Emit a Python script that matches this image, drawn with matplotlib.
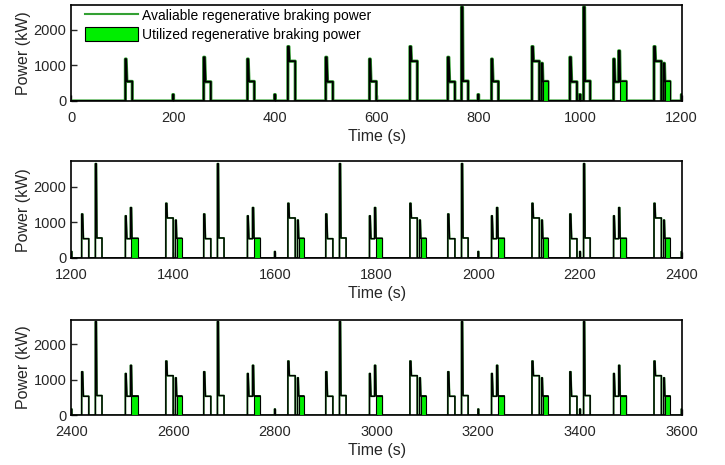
import numpy as np
import matplotlib
matplotlib.use("Agg")
import matplotlib.pyplot as plt

plt.rcParams['font.family'] = ['Liberation Sans', 'DejaVu Sans']

# event shapes: (offset s, available kW) and utilized (offset s, kW)
shape_a = ([0, 0, 2, 3.5, 14, 14], [0, 1230, 1230, 540, 540, 0])
shape_b = ([0, 0, 2, 3, 13, 13], [0, 2640, 2640, 560, 560, 0])
shape_c_short = ([0, 0, 1.5, 3, 13.5, 13.5], [0, 1180, 1180, 550, 550, 0])
shape_c = ([0, 0, 1.5, 3, 10, 10, 12, 13, 25, 25], [0, 1180, 1180, 540, 540, 1410, 1410, 550, 550, 0])
shape_c_used = ([12, 12, 25, 25], [0, 550, 550, 0])
shape_d = ([0, 0, 2, 3, 14.5, 14.5], [0, 1530, 1530, 1120, 1120, 0])
shape_e = ([0, 0, 1.5, 2.5, 12.5, 12.5], [0, 1060, 1060, 550, 550, 0])
shape_e_used = ([2.5, 2.5, 12.5, 12.5], [0, 550, 550, 0])
shape_tick = ([-0.7, -0.7, 0.7, 0.7], [0, 180, 180, 0])

# event start times (s)
a_start = [260, 500, 740, 980, 1220, 1460, 1700, 1940, 2180, 2420, 2660, 2900, 3140, 3380]
b_start = [767, 1007, 1247, 1487, 1727, 1967, 2207, 2447, 2687, 2927, 3167, 3407]
c_short_start = [106, 346, 586, 826]
c_start = [1066, 1306, 1546, 1786, 2026, 2266, 2506, 2746, 2986, 3226, 3466]
d_start = [425.5, 665.5, 905.5, 1145.5, 1385.5, 1625.5, 1865.5, 2105.5, 2345.5,
           2585.5, 2825.5, 3065.5, 3305.5, 3545.5]
e_start = [924.5, 1164.5, 1404.5, 1644.5, 1884.5, 2124.5, 2364.5, 2604.5, 2844.5,
           3084.5, 3324.5, 3564.5]
tick_times = [200, 400, 800, 1000, 1200, 1600, 2000, 2200, 2400, 2800, 3200, 3400, 3600]


def build(events, t_end=3600):
    events = sorted(events, key=lambda e: e[0])
    xs, ys = [0], [0]
    for t0, (st, sv) in events:
        xs += [t0 + s for s in st]
        ys += list(sv)
    xs.append(t_end)
    ys.append(0)
    return np.array(xs), np.array(ys)


avail_events = ([(t, shape_a) for t in a_start] + [(t, shape_b) for t in b_start] +
                [(t, shape_c_short) for t in c_short_start] + [(t, shape_c) for t in c_start] +
                [(t, shape_d) for t in d_start] + [(t, shape_e) for t in e_start] +
                [(t, shape_tick) for t in tick_times])
used_events = [(t, shape_c_used) for t in c_start] + [(t, shape_e_used) for t in e_start]

t_av, p_av = build(avail_events)
t_us, p_us = build(used_events)

fig = plt.figure(figsize=(7.25, 4.65), dpi=100)
ranges = [(0, 1200), (1200, 2400), (2400, 3600)]
positions = [[0.0986, 0.7828, 0.8417, 0.2065],
             [0.0986, 0.4452, 0.8417, 0.2075],
             [0.0986, 0.1065, 0.8417, 0.2064]]
txt = '#262626'

for i, (lo, hi) in enumerate(ranges):
    ax = fig.add_axes(positions[i])
    if i == 0:
        g_lw, k_lw = 2.3, 1.3
    else:
        g_lw, k_lw = 1.3, 1.0
    ax.plot(t_av, p_av, color='#33a033', lw=g_lw, zorder=2,
            label='Avaliable regenerative braking power')
    ax.plot(t_av, p_av, color='black', lw=k_lw, zorder=3)
    ax.fill(t_us, p_us, facecolor='#00ee00', edgecolor='black', lw=0.8, zorder=4,
            label='Utilized regenerative braking power')
    ax.set_xlim(lo, hi)
    ax.set_ylim(0, 2700)
    ax.set_xticks(np.arange(lo, hi + 1, 200))
    ax.set_yticks([0, 1000, 2000])
    ax.tick_params(direction='in', labelsize=10.5, colors=txt, length=4, width=1)
    ax.tick_params(axis='x', pad=7)
    for sp in ax.spines.values():
        sp.set_linewidth(1.2)
        sp.set_color('black')
    ax.set_xlabel('Time (s)', fontsize=11.5, color=txt, labelpad=3)
    ax.set_ylabel('Power (kW)', fontsize=11.5, color=txt, labelpad=2)
    if i == 0:
        leg = ax.legend(loc='upper left', bbox_to_anchor=(0.0156, 1.01), frameon=False,
                        fontsize=10, handlelength=3.8, handleheight=1.1, labelspacing=0.35,
                        borderaxespad=0, handletextpad=0.3, borderpad=0.3)
        leg.get_lines()[0].set_linewidth(1.5)

fig.savefig('out.png', dpi=100)
